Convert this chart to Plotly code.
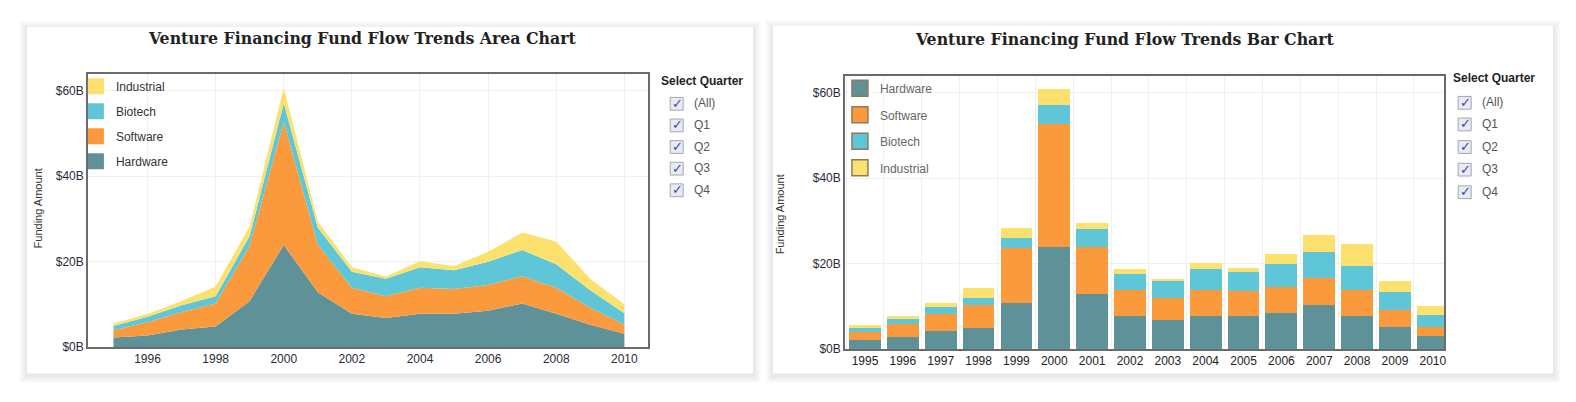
import plotly.graph_objects as go

W, H = 1576, 402

years = list(range(1995, 2011))
year_labels = [str(y) for y in years]
hardware = [2.2, 2.7, 4.1, 4.8, 10.8, 23.9, 12.8, 7.8, 6.8, 7.8, 7.8, 8.5, 10.2, 7.8, 5.2, 3.1]
software = [1.7, 3.1, 4.1, 5.4, 12.9, 28.9, 11.2, 6.1, 5.1, 6.1, 5.8, 6.0, 6.4, 6.1, 4.0, 2.1]
biotech = [1.0, 1.3, 1.6, 1.7, 2.3, 4.3, 4.0, 3.7, 4.1, 4.8, 4.4, 5.5, 6.1, 5.5, 4.1, 2.7]
industrial = [0.6, 0.6, 1.0, 2.3, 2.3, 3.7, 1.4, 1.1, 0.5, 1.4, 1.0, 2.3, 4.1, 5.3, 2.7, 2.1]

series_names = ["Hardware", "Software", "Biotech", "Industrial"]
series_values = [hardware, software, biotech, industrial]
colors = {"Hardware": "#5f9198", "Software": "#fb9a3c", "Biotech": "#5fc6d8", "Industrial": "#fde16f"}

y_tickvals = [0, 20, 40, 60]
y_ticktext = ["$0B", "$20B", "$40B", "$60B"]
area_xticks = [1996, 1998, 2000, 2002, 2004, 2006, 2008, 2010]
quarters = ["(All)", "Q1", "Q2", "Q3", "Q4"]

FONT = "Liberation Sans, Arial, sans-serif"
TITLE_FONT = "DejaVu Serif Condensed, Liberation Serif, serif"

fig = go.Figure()

# ---- Area chart (left) ----
for name, vals in zip(series_names, series_values):
    fig.add_trace(go.Scatter(
        x=years, y=vals, name=name, mode="lines", stackgroup="area",
        line=dict(width=0, color=colors[name]), fillcolor=colors[name],
        xaxis="x", yaxis="y", showlegend=False))
for name in reversed(series_names):
    fig.add_trace(go.Scatter(
        x=[None], y=[None], name=name, mode="markers",
        marker=dict(symbol="square", size=16, color=colors[name]),
        xaxis="x", yaxis="y", legend="legend", legendgroup="a" + name))

# ---- Bar chart (right) ----
for name, vals in zip(series_names, series_values):
    fig.add_trace(go.Bar(
        x=year_labels, y=vals, name=name, marker=dict(color=colors[name], line=dict(width=0)),
        xaxis="x2", yaxis="y2", showlegend=False))
for name in series_names:
    fig.add_trace(go.Scatter(
        x=[None], y=[None], name=name, mode="markers",
        marker=dict(symbol="square", size=16, color=colors[name],
                    line=dict(color="#8c7b5c", width=1.5)),
        xaxis="x2", yaxis="y2", legend="legend2", legendgroup="b" + name))


def px(x):
    return x / W


def py(y):
    return 1 - y / H


shapes = []
annotations = []

# cards with soft shadows
cards = [(19, 19, 746, 372), (766, 18, 1547, 372)]
for (x0, y0, x1, y1) in cards:
    for k in range(8, 0, -1):
        shapes.append(dict(type="rect", xref="paper", yref="paper", layer="below",
                           x0=px(x0 - k), x1=px(x1 + k), y0=py(y0 - k + 2), y1=py(y1 + k + 2),
                           fillcolor="rgba(0,0,0,0.010)", line=dict(width=0)))
    shapes.append(dict(type="rect", xref="paper", yref="paper", layer="below",
                       x0=px(x0), x1=px(x1), y0=py(y0), y1=py(y1),
                       fillcolor="white", line=dict(width=0)))

# white backing behind the in-plot legends (covers gridlines only)
for (x0, y0, x1, y1) in [(81, 68, 182, 170), (839, 70, 937, 178)]:
    shapes.append(dict(type="rect", xref="paper", yref="paper", layer="between",
                       x0=px(x0), x1=px(x1), y0=py(y1), y1=py(y0),
                       fillcolor="white", line=dict(width=0)))

# titles
annotations.append(dict(text="<b>Venture Financing Fund Flow Trends Area Chart</b>",
                        x=px(355), y=py(31), xref="paper", yref="paper", showarrow=False,
                        xanchor="center", yanchor="middle",
                        font=dict(family=TITLE_FONT, size=17.5, color="#222")))
annotations.append(dict(text="<b>Venture Financing Fund Flow Trends Bar Chart</b>",
                        x=px(1118), y=py(32), xref="paper", yref="paper", showarrow=False,
                        xanchor="center", yanchor="middle",
                        font=dict(family=TITLE_FONT, size=17.5, color="#222")))

# y axis titles
for xpos, ypos in [(30, 204), (773, 210)]:
    annotations.append(dict(text="Funding Amount", x=px(xpos), y=py(ypos), xref="paper", yref="paper",
                            showarrow=False, textangle=-90, xanchor="center", yanchor="middle",
                            font=dict(family=FONT, size=11, color="#333")))

# quarter filters
filters = [(652, 74, [97, 119, 141, 163, 185], 663), (1445, 71, [96, 118, 141, 164, 187], 1452)]
for (tx, ty, rows, bx) in filters:
    annotations.append(dict(text="<b>Select Quarter</b>", x=px(tx), y=py(ty), xref="paper", yref="paper",
                            showarrow=False, xanchor="left", yanchor="middle",
                            font=dict(family=FONT, size=12, color="#222")))
    for q, ry in zip(quarters, rows):
        shapes.append(dict(type="rect", xref="paper", yref="paper",
                           x0=px(bx), x1=px(bx + 13), y0=py(ry + 7), y1=py(ry - 6),
                           fillcolor="#e9ebf2", line=dict(color="#a4a6ae", width=1)))
        annotations.append(dict(text="<b>✓</b>", x=px(bx + 7), y=py(ry), xref="paper", yref="paper",
                                showarrow=False, xanchor="center", yanchor="middle",
                                font=dict(family="DejaVu Sans", size=13, color="#2b4fae")))
        annotations.append(dict(text=q, x=px(bx + 22), y=py(ry), xref="paper", yref="paper",
                                showarrow=False, xanchor="left", yanchor="middle",
                                font=dict(family=FONT, size=12, color="#555")))

axis_common = dict(showline=True, mirror=True, linecolor="#6b6b6b", linewidth=1.5,
                   ticks="", zeroline=False, gridcolor="#f0f0f0", gridwidth=1)

fig.update_layout(
    width=W, height=H,
    margin=dict(l=0, r=0, t=0, b=0),
    paper_bgcolor="white", plot_bgcolor="rgba(0,0,0,0)",
    barmode="stack", bargap=0.16,
    font=dict(family=FONT, size=12, color="#333"),
    xaxis=dict(domain=[px(80), px(641)], range=[1994.25, 2010.7], tickvals=area_xticks,
               anchor="y", tickfont=dict(size=12, color="#2a2a3a"), showgrid=True, **axis_common),
    yaxis=dict(domain=[1 - 345 / H, 1 - 67 / H], range=[0, 64], tickvals=y_tickvals,
               anchor="x", ticktext=y_ticktext, tickfont=dict(size=12, color="#2a2a3a"),
               showgrid=True, **axis_common),
    xaxis2=dict(domain=[px(838), px(1438)], type="category", range=[-0.53, 15.3],
                anchor="y2", tickson="boundaries", tickfont=dict(size=12, color="#222"),
                showgrid=True, **axis_common),
    yaxis2=dict(domain=[1 - 347 / H, 1 - 69 / H], range=[0, 64], tickvals=y_tickvals,
                anchor="x2", ticktext=y_ticktext, tickfont=dict(size=12, color="#2a2a3a"),
                showgrid=True, **axis_common),
    legend=dict(x=px(68), y=py(65), xanchor="left", yanchor="top", bgcolor="rgba(0,0,0,0)",
                borderwidth=0, traceorder="grouped", tracegroupgap=6,
                font=dict(family=FONT, size=12, color="#333"), itemclick=False),
    legend2=dict(x=px(833), y=py(67), xanchor="left", yanchor="top", bgcolor="rgba(0,0,0,0)",
                 borderwidth=0, traceorder="grouped", tracegroupgap=7.5,
                 font=dict(family=FONT, size=12, color="#666"), itemclick=False),
    shapes=shapes, annotations=annotations,
    hovermode=False,
)

fig.write_html("out.html")
